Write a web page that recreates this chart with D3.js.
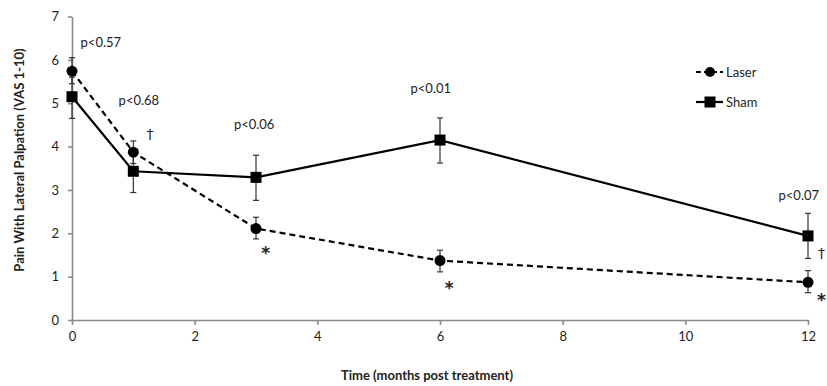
<!DOCTYPE html>
<html><head><meta charset="utf-8">
<script src="https://cdn.jsdelivr.net/npm/d3@7"></script>
<style>body{margin:0;background:#fff}svg{display:block}</style>
</head><body>
<script>
const months = [0, 1, 3, 6, 12];
const laserMean = [5.74, 3.87, 2.11, 1.37, 0.87];
const laserLow  = [5.45, 3.61, 1.87, 1.11, 0.63];
const laserHigh = [6.05, 4.13, 2.37, 1.61, 1.14];
const shamMean  = [5.15, 3.43, 3.29, 4.15, 1.94];
const shamLow   = [4.65, 2.94, 2.76, 3.62, 1.42];
const shamHigh  = [5.60, 3.92, 3.80, 4.66, 2.46];
const xTicks = [0, 2, 4, 6, 8, 10, 12];
const yTicks = [0, 1, 2, 3, 4, 5, 6, 7];
const pLabels = [
  {m: 0.47, v: 6.42, t: "p<0.57"},
  {m: 1.09, v: 5.07, t: "p<0.68"},
  {m: 2.97, v: 4.53, t: "p<0.06"},
  {m: 5.85, v: 5.35, t: "p<0.01"},
  {m: 11.85, v: 2.88, t: "p<0.07"}
];
const marks = [
  {m: 1.27, v: 4.28, t: "†"},
  {m: 3.16, v: 1.66, t: "*"},
  {m: 6.15, v: 0.86, t: "*"},
  {m: 12.22, v: 1.55, t: "†"},
  {m: 12.22, v: 0.58, t: "*"}
];

const W = 827, H = 386;
const svg = d3.select("body").append("svg").attr("width", W).attr("height", H);
const font = "Lato,'Liberation Sans',Arial,sans-serif";
const x = d3.scaleLinear().domain([0, 12]).range([72, 808]);
const y = d3.scaleLinear().domain([0, 7]).range([320, 16.5]);

// axes
const xa = svg.append("g").attr("transform", `translate(0,${y(0)})`)
  .call(d3.axisBottom(x).tickValues(xTicks).tickFormat(d3.format("d")).tickSize(5).tickSizeOuter(0).tickPadding(7));
const ya = svg.append("g").attr("transform", `translate(${x(0)},0)`)
  .call(d3.axisLeft(y).tickValues(yTicks).tickFormat(d3.format("d")).tickSize(4).tickSizeOuter(0).tickPadding(9));
[xa, ya].forEach(a => {
  a.selectAll("path,line").attr("stroke", "#8a8a8a").attr("stroke-width", 1.6);
  a.selectAll("text").attr("font-family", font).attr("font-size", 13).attr("fill", "#222");
});

// lines
const line = d3.line().x(d => x(d[0])).y(d => y(d[1]));
const laserPts = months.map((m, i) => [m, laserMean[i]]);
const shamPts = months.map((m, i) => [m, shamMean[i]]);

// error bars
function errBars(lo, hi) {
  const g = svg.append("g").attr("stroke", "#333").attr("stroke-width", 1.2);
  months.forEach((m, i) => {
    g.append("line").attr("x1", x(m)).attr("x2", x(m)).attr("y1", y(lo[i])).attr("y2", y(hi[i]));
    [lo[i], hi[i]].forEach(v => g.append("line").attr("x1", x(m) - 3).attr("x2", x(m) + 3).attr("y1", y(v)).attr("y2", y(v)));
  });
}
errBars(shamLow, shamHigh);
errBars(laserLow, laserHigh);

svg.append("path").datum(shamPts).attr("d", line).attr("fill", "none").attr("stroke", "#000").attr("stroke-width", 2.2);
svg.append("path").datum(laserPts).attr("d", line).attr("fill", "none").attr("stroke", "#000").attr("stroke-width", 2.2).attr("stroke-dasharray", "6,4");

svg.selectAll(".sq").data(shamPts).enter().append("rect")
  .attr("x", d => x(d[0]) - 5.5).attr("y", d => y(d[1]) - 5.5).attr("width", 11).attr("height", 11).attr("fill", "#000");
svg.selectAll(".ci").data(laserPts).enter().append("circle")
  .attr("cx", d => x(d[0])).attr("cy", d => y(d[1])).attr("r", 5.5).attr("fill", "#000");

// annotations
svg.selectAll(".pl").data(pLabels).enter().append("text")
  .attr("x", d => x(d.m)).attr("y", d => y(d.v)).attr("text-anchor", "middle").attr("dominant-baseline", "central")
  .attr("font-family", font).attr("font-size", 13).attr("fill", "#222").text(d => d.t);
svg.selectAll(".mk").data(marks).enter().append("text")
  .attr("x", d => x(d.m)).attr("y", d => y(d.v) + (d.t === "*" ? 5 : 0)).attr("text-anchor", "middle").attr("dominant-baseline", "central")
  .attr("font-family", "'DejaVu Sans',sans-serif").attr("font-weight", d => d.t === "*" ? "bold" : "normal")
  .attr("font-size", d => d.t === "*" ? 17 : 14).attr("fill", "#222").text(d => d.t);

// legend
const lg = svg.append("g");
const legendItems = [{name: "Laser", dash: "5,3", shape: "circle", yy: 72}, {name: "Sham", dash: null, shape: "rect", yy: 102}];
legendItems.forEach(it => {
  lg.append("line").attr("x1", 696).attr("x2", 723).attr("y1", it.yy).attr("y2", it.yy)
    .attr("stroke", "#000").attr("stroke-width", 2.2).attr("stroke-dasharray", it.dash);
  if (it.shape === "circle") lg.append("circle").attr("cx", 710).attr("cy", it.yy).attr("r", 5).attr("fill", "#000");
  else lg.append("rect").attr("x", 710 - 5.5).attr("y", it.yy - 5.5).attr("width", 11).attr("height", 11).attr("fill", "#000");
  lg.append("text").attr("x", 726).attr("y", it.yy).attr("dominant-baseline", "central").attr("font-family", font).attr("font-size", 13).attr("fill", "#222").text(it.name);
});

// titles
svg.append("text").attr("x", 427).attr("y", 380).attr("text-anchor", "middle")
  .attr("font-family", font).attr("font-weight", "bold").attr("font-size", 13).attr("fill", "#222")
  .text("Time (months post treatment)");
svg.append("text").attr("transform", "translate(24,160) rotate(-90)").attr("text-anchor", "middle")
  .attr("font-family", font).attr("font-weight", "bold").attr("font-size", 13).attr("fill", "#222")
  .text("Pain With Lateral Palpation (VAS 1-10)");
</script>
</body></html>
